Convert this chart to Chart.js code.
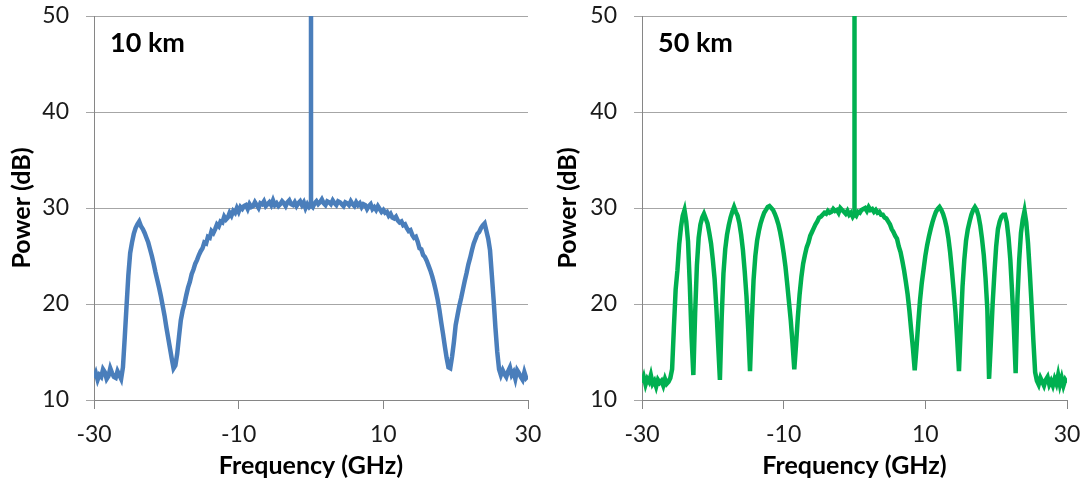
<!DOCTYPE html>
<html>
<head>
<meta charset="utf-8">
<script src="https://cdn.jsdelivr.net/npm/chart.js@4.4.1/dist/chart.umd.min.js"></script>
<style>
  html, body { margin: 0; padding: 0; background: #fff; }
  #wrap { position: relative; width: 1091px; height: 487px; }
  .panel { position: absolute; top: 0; height: 487px; }
</style>
</head>
<body>
<div id="wrap">
  <div class="panel" style="left:0;width:546px"><canvas id="c10" width="546" height="487"></canvas></div>
  <div class="panel" style="left:546px;width:545px"><canvas id="c50" width="545" height="487"></canvas></div>
</div>
<script>
const power10km = [
  12.3, 12.8, 12.1, 12.6, 12.4, 13.2, 12.9, 12.2, 12.5, 13.3, 12.8, 12.4, 12.3, 13.0, 12.6, 12.2, 13.4, 16.5, 19.8, 23.0,
  25.3, 26.4, 27.3, 27.9, 28.3, 28.6, 28.1, 27.8, 27.4, 26.9, 26.4, 25.7, 25.0, 24.2, 23.3, 22.5, 21.7, 20.8, 19.8, 18.8,
  17.6, 16.5, 15.4, 14.3, 13.3, 13.6, 14.8, 16.6, 18.3, 19.3, 20.0, 20.9, 21.7, 22.3, 23.1, 23.6, 24.2, 24.6, 25.1, 25.5,
  25.8, 26.4, 26.3, 27.0, 26.9, 27.6, 27.4, 27.8, 28.3, 28.1, 28.6, 28.5, 29.1, 28.8, 29.0, 29.5, 29.2, 29.7, 29.5, 30.0,
  29.6, 30.1, 29.9, 30.2, 30.3, 29.9, 30.4, 30.1, 30.2, 30.6, 30.3, 30.0, 30.5, 30.4, 30.7, 30.2, 30.4, 30.6, 30.3, 30.8,
  30.3, 30.5, 30.2, 30.4, 30.7, 30.5, 30.2, 30.6, 30.8, 30.4, 30.3, 30.6, 30.2, 30.5, 30.7, 30.3, 30.6, 30.0, 30.4, 30.1,
  30.3, 30.1, 30.5, 30.7, 30.4, 30.6, 30.9, 30.5, 30.3, 30.7, 30.6, 30.4, 30.8, 30.5, 30.3, 30.7, 30.6, 30.4, 30.2, 30.6,
  30.5, 30.3, 30.7, 30.4, 30.2, 30.6, 30.3, 30.5, 30.1, 30.4, 30.3, 29.9, 30.2, 30.4, 29.9, 30.1, 29.8, 30.2, 29.9, 29.6,
  29.8, 29.5, 29.6, 29.2, 29.4, 29.0, 28.9, 29.1, 28.7, 28.5, 28.6, 28.2, 28.3, 27.9, 27.6, 27.7, 27.2, 26.9, 27.0, 26.5,
  25.8, 25.7, 25.1, 24.9, 24.5, 24.0, 23.5, 22.9, 22.2, 21.4, 20.5, 19.4, 18.1, 16.9, 15.6, 14.4, 13.4, 13.3, 14.5, 16.0,
  17.8, 18.8, 19.8, 20.6, 21.5, 22.4, 23.2, 24.1, 24.8, 25.6, 26.3, 26.8, 27.3, 27.5, 27.9, 28.2, 28.4, 27.6, 26.8, 25.6,
  23.0, 20.4, 17.5, 15.0, 13.2, 12.6, 13.1, 12.7, 12.4, 13.0, 13.4, 12.6, 12.9, 12.2, 13.1, 12.8, 12.4, 12.1, 12.9, 12.3,
  12.5
];
const power50km = [
  11.8, 12.4, 11.6, 12.2, 11.9, 12.6, 11.7, 12.0, 11.4, 12.1, 11.8, 12.0, 11.5, 12.2, 11.7, 11.9, 12.3, 13.2, 17.5, 21.5,
  23.5, 26.2, 28.0, 29.2, 29.8, 28.6, 26.5, 22.0, 16.5, 12.6, 19.0, 24.0, 26.9, 28.3, 29.0, 29.4, 28.9, 28.4, 27.4, 26.3,
  24.6, 22.6, 19.6, 15.8, 12.1, 18.6, 23.2, 25.7, 27.2, 28.2, 29.0, 29.6, 30.1, 29.6, 29.2, 28.4, 27.2, 25.6, 23.4, 20.8,
  17.3, 13.0, 18.2, 22.5, 25.0, 26.6, 27.6, 28.4, 29.0, 29.5, 29.8, 30.1, 30.2, 30.0, 29.8, 29.4, 28.9, 28.3, 27.5, 26.5,
  25.3, 23.9, 22.1, 20.2, 18.3, 15.9, 13.2, 15.8, 18.6, 21.0, 22.8, 24.2, 25.1, 25.9, 26.4, 27.1, 27.5, 27.9, 28.3, 28.6,
  29.0, 29.1, 29.3, 29.5, 29.4, 29.7, 29.5, 29.6, 29.9, 29.7, 29.8, 29.5, 30.0, 29.8, 29.6, 29.4, 29.7, 29.3, 29.5, 29.1,
  29.4, 29.2, 29.6, 29.5, 29.8, 29.9, 30.0, 29.7, 30.1, 29.8, 29.9, 29.6, 29.8, 29.5, 29.6, 29.3, 29.3, 29.0, 28.9, 28.6,
  28.3, 27.8, 27.5, 27.1, 26.8, 26.0, 25.4, 24.5, 23.5, 22.3, 21.0, 19.3, 17.3, 15.4, 13.1, 15.4, 18.0, 20.4, 22.2, 23.6,
  25.0, 26.1, 27.0, 27.8, 28.5, 29.1, 29.6, 29.9, 30.1, 29.8, 29.4, 28.8, 28.0, 26.9, 25.4, 23.5, 21.4, 19.2, 16.3, 13.0,
  17.5, 21.8, 24.6, 26.6, 27.8, 28.6, 29.3, 29.8, 30.1, 29.8, 29.2, 28.2, 26.8, 25.1, 22.7, 19.5, 12.2, 16.0, 20.0, 23.2,
  26.0, 27.8, 28.6, 29.1, 29.3, 29.3, 28.5, 26.9, 24.6, 21.2, 17.5, 12.8, 20.5, 24.6, 27.4, 28.8, 29.7, 28.5, 26.3, 23.3,
  19.9, 16.2, 12.9, 12.0, 11.6, 12.3, 11.9, 11.5, 12.1, 12.4, 11.6, 12.0, 11.5, 12.2, 11.7, 12.6, 11.6, 12.3, 11.5, 12.1,
  11.8
];
// carrier spike at 0 GHz (runs off the top of the frame)
const carrier10km = [30.3, 50];
const carrier50km = [29.4, 50];
const freqTicks = [-30, -10, 10, 30];
const powerTicks = [10, 20, 30, 40, 50];

const freq = power10km.map((_, i) => -30 + i * 0.25);

const gridColor = '#a6a6a6';
const axisColor = '#868686';
const font = 'Lato';

const panelLabel = {
  id: 'panelLabel',
  afterDraw(chart, args, opts) {
    const { ctx, chartArea } = chart;
    ctx.save();
    ctx.font = 'bold 27px ' + font;
    ctx.fillStyle = '#000';
    ctx.textBaseline = 'alphabetic';
    ctx.fillText(opts.text, chartArea.left + 16, chartArea.top + 36);
    ctx.restore();
  }
};

function makePanel(id, label, values, carrier, color, axisWidth, padRight) {
  const ctx = document.getElementById(id).getContext('2d');
  return new Chart(ctx, {
    type: 'line',
    data: {
      datasets: [
        {
          data: values.map((v, i) => ({ x: freq[i], y: v })),
          borderColor: color,
          borderWidth: 4.5,
          pointRadius: 0,
          tension: 0,
        },
        {
          data: carrier.map(v => ({ x: 0, y: v })),
          borderColor: color,
          borderWidth: 4.5,
          pointRadius: 0,
        }
      ]
    },
    options: {
      responsive: false,
      animation: false,
      layout: { padding: { left: 0, right: padRight, top: 16, bottom: 0 } },
      plugins: {
        legend: { display: false },
        tooltip: { enabled: false },
        panelLabel: { text: label }
      },
      scales: {
        x: {
          type: 'linear',
          min: -30,
          max: 30,
          afterBuildTicks: s => { s.ticks = freqTicks.map(v => ({ value: v })); },
          afterFit: s => { s.height = 87; s.paddingLeft = 0; s.paddingRight = 0; },
          grid: { drawOnChartArea: false, drawTicks: true, tickLength: 9, color: axisColor },
          border: { display: true, color: axisColor, width: 1 },
          ticks: { padding: 12, color: '#1a1a1a', font: { family: font, size: 23 }, maxRotation: 0 },
          title: {
            display: true,
            text: 'Frequency (GHz)',
            color: '#000',
            font: { family: font, size: 25, weight: 'bold' },
            padding: { top: 0, bottom: 6 }
          }
        },
        y: {
          min: 10,
          max: 50,
          afterBuildTicks: s => { s.ticks = powerTicks.map(v => ({ value: v })); },
          afterFit: s => { s.width = axisWidth; s.paddingTop = 0; s.paddingBottom = 0; },
          grid: { color: gridColor, tickLength: 8, drawTicks: true },
          border: { display: true, color: axisColor, width: 1 },
          ticks: { padding: 17, color: '#1a1a1a', font: { family: font, size: 23 } },
          title: {
            display: true,
            text: 'Power (dB)',
            color: '#000',
            font: { family: font, size: 25, weight: 'bold' },
            padding: { top: 7, bottom: 0 }
          }
        }
      }
    },
    plugins: [panelLabel]
  });
}

makePanel('c10', '10 km', power10km, carrier10km, '#4a7ebb', 94, 18);
makePanel('c50', '50 km', power50km, carrier50km, '#00b050', 96, 24);
</script>
</body>
</html>
